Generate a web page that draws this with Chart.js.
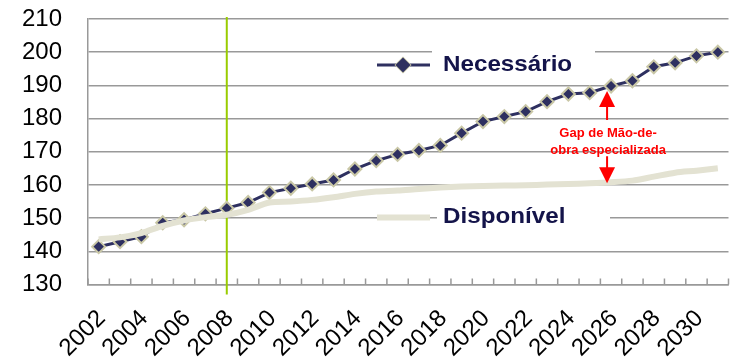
<!DOCTYPE html>
<html>
<head>
<meta charset="utf-8">
<script src="https://cdn.jsdelivr.net/npm/chart.js@4.4.1/dist/chart.umd.min.js"></script>
<style>
  html, body { margin: 0; padding: 0; background: #fff; }
  #wrap { width: 737px; height: 362px; position: relative; }
</style>
</head>
<body>
<div id="wrap"><canvas id="gapChart"></canvas></div>
<script>
// Dados
const anos = ['2002', '2003', '2004', '2005', '2006', '2007', '2008', '2009', '2010', '2011',
              '2012', '2013', '2014', '2015', '2016', '2017', '2018', '2019', '2020', '2021',
              '2022', '2023', '2024', '2025', '2026', '2027', '2028', '2029', '2030', '2031'];
const necessario = [141.4, 142.9, 144.4, 148.6, 149.5, 151.3, 153.0, 154.7, 157.7, 159.0,
                    160.3, 161.5, 164.8, 167.3, 169.2, 170.4, 171.9, 175.6, 179.1, 180.6,
                    182.1, 185.1, 187.4, 187.8, 189.8, 191.4, 195.6, 196.8, 198.9, 200.0];
const disponivel = [143.6, 144.2, 145.5, 147.7, 149.3, 150.3, 151.0, 152.5, 154.7, 155.0,
                    155.5, 156.3, 157.3, 158.0, 158.3, 158.8, 159.2, 159.5, 159.7, 159.8,
                    159.9, 160.1, 160.3, 160.5, 160.8, 161.3, 162.5, 163.7, 164.3, 165.0];
const yTicks = [130, 140, 150, 160, 170, 180, 190, 200, 210];
const anoMarco = '2008';
const anoGap = '2026';
const textoGap = ['Gap de Mão-de-', 'obra especializada'];

const fonte = "'Liberation Sans', Arial, sans-serif";
const corNecessario = '#2e3060';
const corMarcador = '#c9c7a6';
const corDisponivel = '#e3e2d2';
const corGrade = '#999999';

// Desenha marco vertical, ticks internos, legenda e anotação do gap
const decoracao = {
    id: 'decoracao',
    beforeDatasetsDraw(chart) {
        const ctx = chart.ctx;
        const xs = chart.scales.x;
        const area = chart.chartArea;
        const half = (xs.getPixelForValue(1) - xs.getPixelForValue(0)) / 2;

        ctx.save();
        // ticks do eixo x voltados para dentro
        ctx.strokeStyle = corGrade;
        ctx.lineWidth = 1.5;
        for (let i = 0; i <= anos.length; i++) {
            const x = xs.getPixelForValue(i) - half;
            ctx.beginPath();
            ctx.moveTo(x, area.bottom);
            ctx.lineTo(x, area.bottom - 6);
            ctx.stroke();
        }
        // linha vertical verde em 2008
        const xm = xs.getPixelForValue(anos.indexOf(anoMarco));
        ctx.strokeStyle = '#99cc00';
        ctx.lineWidth = 2;
        ctx.beginPath();
        ctx.moveTo(xm, area.top - 2);
        ctx.lineTo(xm, area.bottom + 10);
        ctx.stroke();
        ctx.restore();
    },
    afterDatasetsDraw(chart) {
        const ctx = chart.ctx;
        const xs = chart.scales.x;
        const ys = chart.scales.y;
        const area = chart.chartArea;
        const dsNec = chart.data.datasets[1];
        const dsDisp = chart.data.datasets[0];

        ctx.save();
        // legenda Necessário
        ctx.fillStyle = '#fff';
        ctx.fillRect(area.left + 344, area.top + 28, 163, 30);
        ctx.strokeStyle = corNecessario;
        ctx.lineWidth = 3;
        ctx.beginPath();
        ctx.moveTo(area.left + 289, area.top + 46);
        ctx.lineTo(area.left + 342, area.top + 46);
        ctx.stroke();
        const mx = area.left + 315, my = area.top + 46, r = 7.5;
        ctx.beginPath();
        ctx.moveTo(mx, my - r);
        ctx.lineTo(mx + r, my);
        ctx.lineTo(mx, my + r);
        ctx.lineTo(mx - r, my);
        ctx.closePath();
        ctx.strokeStyle = corMarcador;
        ctx.lineWidth = 1.5;
        ctx.stroke();
        ctx.fillStyle = corNecessario;
        ctx.fill();
        desenhaTexto(ctx, dsNec.label, area.left + 355, area.top + 46);

        // legenda Disponível
        ctx.fillStyle = '#fff';
        ctx.fillRect(area.left + 349, area.top + 186, 173, 24);
        ctx.strokeStyle = corDisponivel;
        ctx.lineWidth = 6;
        ctx.beginPath();
        ctx.moveTo(area.left + 289, area.top + 198.5);
        ctx.lineTo(area.left + 342, area.top + 198.5);
        ctx.stroke();
        desenhaTexto(ctx, dsDisp.label, area.left + 355, area.top + 198);

        // anotação do gap
        const ig = anos.indexOf(anoGap);
        const xg = xs.getPixelForValue(ig) - 4;
        const yTop = ys.getPixelForValue(necessario[ig]);
        const yBot = ys.getPixelForValue(disponivel[ig]);
        ctx.fillStyle = '#ff0000';
        ctx.strokeStyle = '#ff0000';
        ctx.lineWidth = 2;
        ctx.beginPath();
        ctx.moveTo(xg, yTop + 18);
        ctx.lineTo(xg, yTop + 34);
        ctx.moveTo(xg, yBot - 14);
        ctx.lineTo(xg, yBot - 26);
        ctx.stroke();
        ctx.beginPath();
        ctx.moveTo(xg, yTop + 5);
        ctx.lineTo(xg - 8, yTop + 21);
        ctx.lineTo(xg + 8, yTop + 21);
        ctx.closePath();
        ctx.fill();
        ctx.beginPath();
        ctx.moveTo(xg, yBot + 1);
        ctx.lineTo(xg - 8, yBot - 15);
        ctx.lineTo(xg + 8, yBot - 15);
        ctx.closePath();
        ctx.fill();
        ctx.font = 'bold 13px ' + fonte;
        ctx.textAlign = 'center';
        ctx.textBaseline = 'middle';
        ctx.fillText(textoGap[0], xg + 1, yTop + 47);
        ctx.fillText(textoGap[1], xg + 1, yTop + 64);
        ctx.restore();
    }
};

function desenhaTexto(ctx, texto, x, y) {
    ctx.save();
    ctx.font = 'bold 22px ' + fonte;
    ctx.fillStyle = '#14144a';
    ctx.textAlign = 'left';
    ctx.textBaseline = 'middle';
    ctx.translate(x, y);
    ctx.scale(1.1, 1);
    ctx.fillText(texto, 0, 0);
    ctx.restore();
}

const ctx = document.getElementById('gapChart');
new Chart(ctx, {
    type: 'line',
    data: {
        labels: anos,
        datasets: [
            {
                label: 'Disponível',
                data: disponivel,
                borderColor: corDisponivel,
                borderWidth: 6,
                pointRadius: 0,
                tension: 0.3,
                fill: false
            },
            {
                label: 'Necessário',
                data: necessario,
                borderColor: corNecessario,
                backgroundColor: corNecessario,
                borderWidth: 3,
                pointStyle: 'rectRot',
                pointRadius: 6.5,
                pointBackgroundColor: corNecessario,
                pointBorderColor: corMarcador,
                pointBorderWidth: 2,
                tension: 0,
                fill: false
            }
        ]
    },
    options: {
        responsive: true,
        maintainAspectRatio: false,
        animation: false,
        layout: {
            padding: { top: 19, right: 7, left: 0, bottom: 0 }
        },
        plugins: {
            legend: { display: false },
            tooltip: { enabled: false }
        },
        scales: {
            x: {
                type: 'category',
                offset: true,
                grid: { drawOnChartArea: false, drawTicks: false },
                border: { color: corGrade, width: 1.5 },
                ticks: {
                    autoSkip: false,
                    minRotation: 45,
                    maxRotation: 45,
                    padding: 20,
                    labelOffset: 3,
                    color: '#000',
                    font: { family: fonte, size: 24 },
                    callback: function(value, index) {
                        return index % 2 === 0 ? anos[index] : '';
                    }
                },
                afterFit: function(scale) {
                    scale.height = 77.5;
                    scale.paddingLeft = 0;
                    scale.paddingRight = 0;
                    scale.paddingTop = 0;
                    scale.paddingBottom = 0;
                }
            },
            y: {
                min: yTicks[0],
                max: yTicks[yTicks.length - 1],
                grid: { color: corGrade, lineWidth: 1.5, drawTicks: false },
                border: { color: corGrade, width: 1.5 },
                ticks: {
                    autoSkip: false,
                    stepSize: yTicks[1] - yTicks[0],
                    padding: 26,
                    color: '#000',
                    font: { family: fonte, size: 24 }
                },
                afterFit: function(scale) {
                    scale.width = 88;
                    scale.paddingTop = 0;
                    scale.paddingBottom = 0;
                }
            }
        }
    },
    plugins: [decoracao]
});
</script>
</body>
</html>
